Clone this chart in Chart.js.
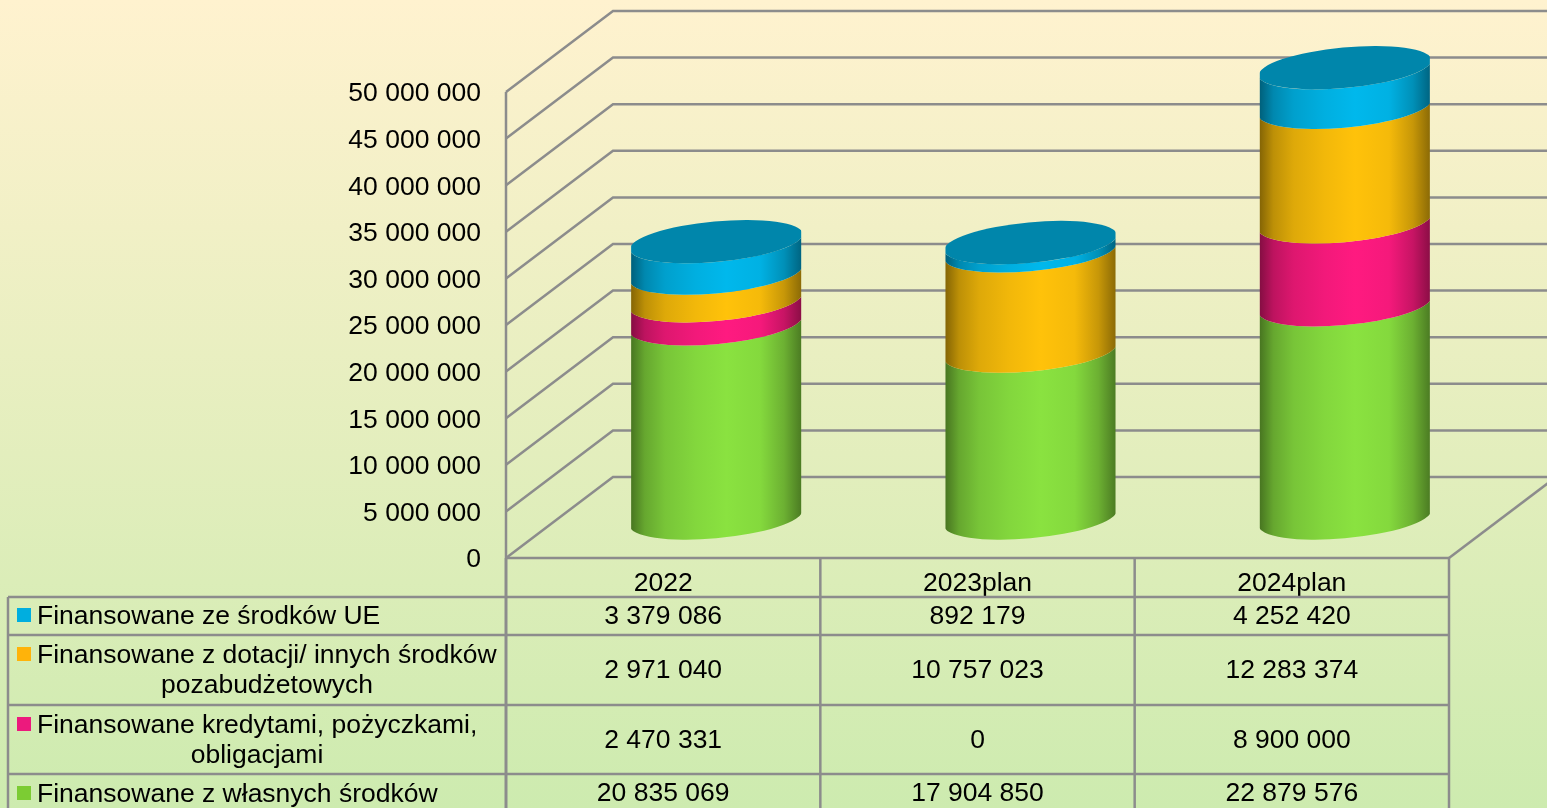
<!DOCTYPE html>
<html lang="pl">
<head>
<meta charset="utf-8">
<title>Finansowanie</title>
<script src="https://cdn.jsdelivr.net/npm/chart.js@4"></script>
<style>
    html, body { margin: 0; padding: 0; width: 1547px; height: 808px; overflow: hidden; }
    body { background: linear-gradient(#fff2cf, #cdebaf); }
    canvas { display: block; }
</style>
</head>
<body>
<canvas id="chart_canvas" width="1547" height="808"></canvas>
<script>
const categories = ['2022', '2023plan', '2024plan']
const own_funds = [20835069, 17904850, 22879576]
const loans = [2470331, 0, 8900000]
const grants = [2971040, 10757023, 12283374]
const eu_funds = [3379086, 892179, 4252420]

const own_label = ['Finansowane z własnych środków']
const loans_label = ['Finansowane kredytami, pożyczkami,', 'obligacjami']
const grants_label = ['Finansowane z dotacji/ innych środków', 'pozabudżetowych']
const eu_label = ['Finansowane ze środków UE']

const FONT_FAMILY = '"Liberation Sans", Arial, sans-serif'
const FONT_SIZE = 26.5
const LINE = '#8c8c8c'
const DEPTH_X = 107
const DEPTH_Y = 81
const TILT = -5.3 * Math.PI / 180

const spaced = (v) => String(v).replace(/\B(?=(\d{3})+(?!\d))/g, ' ')

const shade = (rgb, f) => `rgb(${rgb.map(c => Math.round(c * f)).join(',')})`

const line = (ctx, x1, y1, x2, y2) => {
    ctx.beginPath()
    ctx.moveTo(x1, y1)
    ctx.lineTo(x2, y2)
    ctx.stroke()
}

// back wall, side wall and floor
const drawWalls = (chart) => {
    let { ctx, scales: { x, y } } = chart
    let left = x.left
    let right = x.right
    let zero = y.getPixelForValue(0)
    ctx.save()
    ctx.strokeStyle = LINE
    ctx.lineWidth = 2.5
    line(ctx, left, y.top, left, zero)
    y.ticks.forEach(t => {
        let py = y.getPixelForValue(t.value)
        ctx.beginPath()
        ctx.moveTo(left, py)
        ctx.lineTo(left + DEPTH_X, py - DEPTH_Y)
        ctx.lineTo(chart.width + 10, py - DEPTH_Y)
        ctx.stroke()
    })
    line(ctx, left, zero, right, zero)
    line(ctx, right, zero, right + DEPTH_X, zero - DEPTH_Y)
    ctx.restore()
}

const drawCylinder = (chart, dataset_index, index, is_top) => {
    let { ctx } = chart
    let dataset = chart.data.datasets[dataset_index]
    let bar = chart.getDatasetMeta(dataset_index).data[index]
    if (dataset.data[index] === 0) return

    let half = bar.width / 2
    let rx = half * 1.02
    let ry = bar.width * 0.119
    let cx = bar.x + (DEPTH_X - 1) / 2
    let top = bar.y - DEPTH_Y / 2 + 0.5
    let base = bar.base - DEPTH_Y / 2 + 0.5
    let t0 = Math.atan(-(ry / rx) * Math.tan(TILT))

    let grad = ctx.createLinearGradient(cx - half, 0, cx + half, 0)
    let rgb = dataset.shadeColor
    grad.addColorStop(0, shade(rgb, 0.52))
    grad.addColorStop(0.08, shade(rgb, 0.74))
    grad.addColorStop(0.2, shade(rgb, 0.87))
    grad.addColorStop(0.38, shade(rgb, 0.95))
    grad.addColorStop(0.56, shade(rgb, 1))
    grad.addColorStop(0.76, shade(rgb, 0.96))
    grad.addColorStop(0.9, shade(rgb, 0.78))
    grad.addColorStop(1, shade(rgb, 0.55))

    // ends of the arcs stick out a bit, the clip gives the sharp corners
    ctx.save()
    ctx.beginPath()
    ctx.rect(cx - half, 0, bar.width, chart.height)
    ctx.clip()

    ctx.beginPath()
    ctx.ellipse(cx, base, rx, ry, TILT, t0, t0 + Math.PI)
    ctx.ellipse(cx, top, rx, ry, TILT, t0 + Math.PI, t0, true)
    ctx.closePath()
    ctx.fillStyle = grad
    ctx.fill()

    if (is_top) {
        ctx.beginPath()
        ctx.ellipse(cx, top, rx, ry, TILT, 0, Math.PI * 2)
        ctx.fillStyle = dataset.capColor
        ctx.fill()
    }
    ctx.restore()
}

const drawTable = (chart) => {
    let { ctx, scales: { x, y } } = chart
    let rows = [
        { set: 3, label: eu_label, top: 597, bottom: 635, first: 615 },
        { set: 2, label: grants_label, top: 635, bottom: 705, first: 654, center: 267 },
        { set: 1, label: loans_label, top: 705, bottom: 774, first: 724, center: 257 },
        { set: 0, label: own_label, top: 774, bottom: 812, first: 793 },
    ]
    let zero = y.getPixelForValue(0)
    let band = (x.right - x.left) / categories.length

    ctx.save()
    ctx.strokeStyle = LINE
    ctx.lineWidth = 2.5
    for (let i = 1; i <= categories.length; i++) {
        line(ctx, x.left + band * i, zero, x.left + band * i, chart.height)
    }
    line(ctx, 8, rows[0].top, 8, chart.height)
    rows.forEach(r => line(ctx, 8, r.top, x.right, r.top))
    ctx.lineWidth = 3
    line(ctx, x.left, zero, x.left, chart.height)

    ctx.font = `${FONT_SIZE}px ${FONT_FAMILY}`
    ctx.textBaseline = 'middle'
    rows.forEach(r => {
        let dataset = chart.data.datasets[r.set]
        ctx.fillStyle = dataset.backgroundColor
        ctx.fillRect(17, r.first - 7, 14, 14)

        ctx.fillStyle = '#000'
        ctx.textAlign = 'left'
        ctx.fillText(r.label[0], 37, r.first + 2)
        if (r.label[1]) {
            ctx.textAlign = 'center'
            ctx.fillText(r.label[1], r.center, r.first + 32)
        }

        ctx.textAlign = 'center'
        dataset.data.forEach((v, i) => {
            ctx.fillText(spaced(v), x.getPixelForTick(i), (r.top + r.bottom) / 2 + 1)
        })
    })
    ctx.restore()
}

const cylinders = {
    id: 'cylinders',
    beforeDatasetsDraw(chart) {
        drawWalls(chart)
        let last = chart.data.datasets.length - 1
        categories.forEach((c, i) => {
            chart.data.datasets.forEach((d, k) => drawCylinder(chart, k, i, k === last))
        })
        drawTable(chart)
        return false
    },
}

new Chart(document.getElementById('chart_canvas'), {
    type: 'bar',
    data: {
        labels: categories,
        datasets: [
            { label: own_label.join(' '), data: own_funds, backgroundColor: '#7ccc33', shadeColor: [138, 226, 64] },
            { label: loans_label.join(' '), data: loans, backgroundColor: '#ec1a7d', shadeColor: [255, 26, 128] },
            { label: grants_label.join(' '), data: grants, backgroundColor: '#ffb30a', shadeColor: [255, 194, 10] },
            { label: eu_label.join(' '), data: eu_funds, backgroundColor: '#00aedf', shadeColor: [0, 184, 236], capColor: '#0086ab' },
        ],
    },
    options: {
        responsive: false,
        animation: false,
        layout: { padding: { top: 92, right: 98, left: 0, bottom: 0 } },
        plugins: {
            legend: { display: false },
            title: { display: false },
            tooltip: { enabled: false },
        },
        datasets: { bar: { categoryPercentage: 1, barPercentage: 0.541 } },
        scales: {
            x: {
                stacked: true,
                grid: { display: false },
                border: { display: false },
                ticks: { color: '#000', font: { family: FONT_FAMILY, size: FONT_SIZE }, padding: 2, maxRotation: 0 },
                afterFit: (scale) => { scale.height = 250 },
            },
            y: {
                stacked: true,
                min: 0,
                max: 50000000,
                grid: { display: false },
                border: { display: false },
                ticks: {
                    stepSize: 5000000,
                    color: '#000',
                    padding: 17,
                    labelOffset: 2,
                    font: { family: FONT_FAMILY, size: FONT_SIZE },
                    callback: (v) => spaced(v),
                },
                afterFit: (scale) => { scale.width = 506 },
            },
        },
    },
    plugins: [cylinders],
})
</script>
</body>
</html>
